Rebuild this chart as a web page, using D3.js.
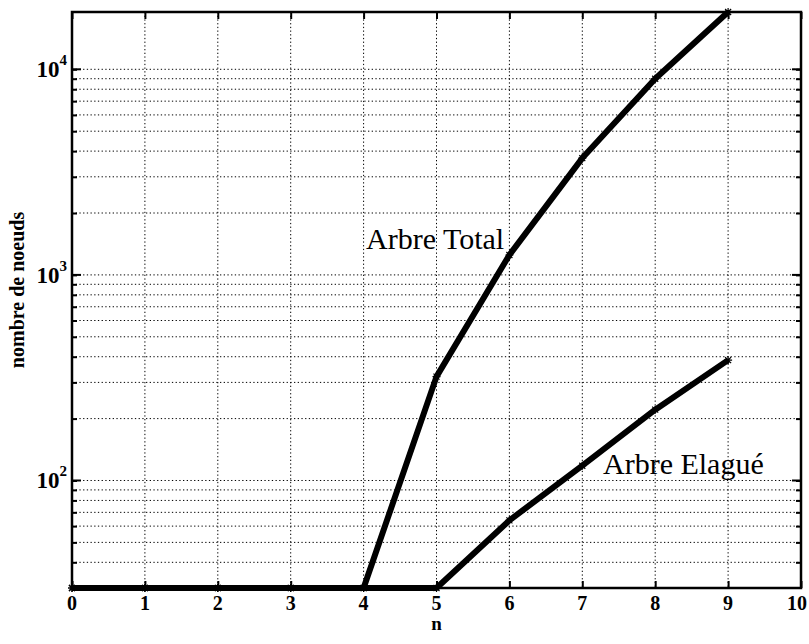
<!DOCTYPE html>
<html>
<head>
<meta charset="utf-8">
<script src="https://cdn.jsdelivr.net/npm/d3@7"></script>
<style>
  body { margin: 0; background: #fff; }
  svg text { font-family: "Liberation Serif", "Times New Roman", serif; fill: #000; }
  .grid line { stroke: #000; stroke-width: 1; stroke-dasharray: 1.3,2.4; }
</style>
</head>
<body>
<script>
// values
var n = [0, 1, 2, 3, 4, 5, 6, 7, 8, 9];
var arbreTotal = [30, 30, 30, 30, 30, 320, 1250, 3700, 9000, 19000];
var arbreElague = [30, 30, 30, 30, 30, 30, 64, 118, 221, 385];
var xTicks = [0, 1, 2, 3, 4, 5, 6, 7, 8, 9, 10];
var decades = [100, 1000, 10000];
var decadeExp = ["2", "3", "4"];

var width = 809, height = 644;
var mLeft = 72, mRight = 801, mTop = 12, mBottom = 588;

var svg = d3.select("body").append("svg")
    .attr("width", width)
    .attr("height", height);

var x = d3.scaleLinear().domain([0, 10]).range([mLeft, mRight]);
var y = d3.scaleLog().domain([30, 19000]).range([mBottom, mTop]);

//minor + major grid values on log axis
var yGrid = [];
[10, 100, 1000, 10000].forEach(function(d){
    for (var k = 1; k <= 9; k++){
        var v = d * k;
        if (v > 30 && v < 19000) yGrid.push(v);
    }
});

//dotted grid
var grid = svg.append("g").attr("class", "grid");
grid.selectAll(".gx")
    .data(xTicks.slice(1, -1))
    .enter().append("line")
    .attr("x1", x).attr("x2", x)
    .attr("y1", mTop).attr("y2", mBottom);
grid.selectAll(".gy")
    .data(yGrid)
    .enter().append("line")
    .attr("x1", mLeft).attr("x2", mRight)
    .attr("y1", y).attr("y2", y);

//axes (ticks inward, box)
var axB = d3.axisBottom(x).tickValues(xTicks).tickSizeInner(-7).tickSizeOuter(0).tickFormat("");
var axT = d3.axisTop(x).tickValues(xTicks).tickSizeInner(-7).tickSizeOuter(0).tickFormat("");
var axL = d3.axisLeft(y).tickValues(yGrid).tickSizeInner(-5).tickSizeOuter(0).tickFormat("");
var axR = d3.axisRight(y).tickValues(yGrid).tickSizeInner(-5).tickSizeOuter(0).tickFormat("");

svg.append("g").attr("transform", "translate(0," + mBottom + ")").call(axB);
svg.append("g").attr("transform", "translate(0," + mTop + ")").call(axT);
svg.append("g").attr("transform", "translate(" + mLeft + ",0)").call(axL);
svg.append("g").attr("transform", "translate(" + mRight + ",0)").call(axR);
svg.selectAll(".domain").remove();
svg.selectAll(".tick line").attr("stroke", "#000").attr("stroke-width", 2);

//longer ticks at decades
svg.selectAll(".majL")
    .data(decades)
    .enter().append("line")
    .attr("x1", mLeft).attr("x2", mLeft + 9)
    .attr("y1", y).attr("y2", y)
    .attr("stroke", "#000").attr("stroke-width", 2);
svg.selectAll(".majR")
    .data(decades)
    .enter().append("line")
    .attr("x1", mRight - 9).attr("x2", mRight)
    .attr("y1", y).attr("y2", y)
    .attr("stroke", "#000").attr("stroke-width", 2);

svg.append("rect")
    .attr("x", mLeft).attr("y", mTop)
    .attr("width", mRight - mLeft).attr("height", mBottom - mTop)
    .attr("fill", "none")
    .attr("stroke", "#000")
    .attr("stroke-width", 2.5);

//tick labels
svg.selectAll(".xl")
    .data(xTicks)
    .enter().append("text")
    .attr("x", function(d){ return d === 10 ? x(d) - 4 : x(d); })
    .attr("y", mBottom + 22)
    .attr("text-anchor", "middle")
    .attr("font-size", 20)
    .attr("font-weight", "bold")
    .text(function(d){ return d; });

var yl = svg.selectAll(".yl")
    .data(decades)
    .enter().append("text")
    .attr("x", mLeft - 5)
    .attr("y", function(d){ return y(d) + 8; })
    .attr("text-anchor", "end")
    .attr("font-size", 23)
    .attr("font-weight", "bold");
yl.append("tspan").text("10");
yl.append("tspan")
    .attr("dy", -12)
    .attr("font-size", 15)
    .text(function(d, i){ return decadeExp[i]; });

//axis titles
svg.append("text")
    .attr("x", x(5))
    .attr("y", 630)
    .attr("text-anchor", "middle")
    .attr("font-size", 19)
    .attr("font-weight", "bold")
    .text("n");

svg.append("text")
    .attr("transform", "translate(24,290) rotate(-90)")
    .attr("text-anchor", "middle")
    .attr("font-size", 20)
    .attr("font-weight", "bold")
    .text("nombre de noeuds");

//series lines
var line = d3.line()
    .x(function(d, i){ return x(n[i]); })
    .y(function(d){ return y(d); });

[arbreTotal, arbreElague].forEach(function(s){
    svg.append("path")
        .datum(s)
        .attr("d", line)
        .attr("fill", "none")
        .attr("stroke", "#000")
        .attr("stroke-width", 6)
        .attr("stroke-linejoin", "round");

    //small star markers
    svg.selectAll(null)
        .data(s)
        .enter().append("path")
        .attr("transform", function(d, i){ return "translate(" + x(n[i]) + "," + y(d) + ")"; })
        .attr("d", "M-4,0H4M0,-4V4M-3,-3L3,3M-3,3L3,-3")
        .attr("stroke", "#000")
        .attr("stroke-width", 1.2);
});

//annotations
svg.append("text")
    .attr("x", 366).attr("y", 249)
    .attr("font-size", 30)
    .text("Arbre Total");

svg.append("text")
    .attr("x", 603).attr("y", 474)
    .attr("font-size", 30)
    .text("Arbre Elagué");
</script>
</body>
</html>
